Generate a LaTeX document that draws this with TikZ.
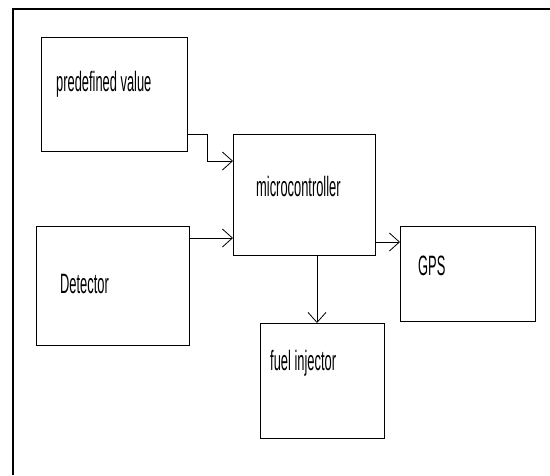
\documentclass[tikz,border=0pt]{standalone}
\usepackage{fontspec}
\usetikzlibrary{arrows.meta}
\newfontfamily\boxfont[FakeStretch=0.46]{Liberation Sans}

\tikzset{
  blockbox/.style={draw, line width=1pt, inner sep=0pt, outer sep=0pt},
  boxtext/.style={anchor=base west, inner sep=0pt, font=\boxfont\fontsize{28}{32}\selectfont},
  flow/.style={line width=1pt, -{Straight Barb[length=10pt,width=18pt,line width=0.8pt]}}
}

\begin{document}
\begin{tikzpicture}[x=1pt,y=-1pt]

    \useasboundingbox (0,0) rectangle (550,475);
    \draw[line width=1.2pt] (550,9) -- (13,9) -- (13,475);

    \node[blockbox, minimum width=146pt, minimum height=114pt] (pred) at (114,94) {};
    \node[blockbox, minimum width=142pt, minimum height=121pt] (micro) at (304,194.5) {};
    \node[blockbox, minimum width=153pt, minimum height=119pt] (det) at (112.5,285.5) {};
    \node[blockbox, minimum width=135pt, minimum height=95pt] (gps) at (467.5,273.5) {};
    \node[blockbox, minimum width=124pt, minimum height=115pt] (fuel) at (322,380.5) {};

    \node[boxtext] (predtext) at (56,91) {predefined value};
    \node[boxtext] (microtext) at (256,196) {microcontroller};
    \node[boxtext] (dettext) at (60,293) {Detector};
    \node[boxtext] (gpstext) at (418,275) {GPS};
    \node[boxtext] (fueltext) at (270,370) {fuel injector};

    \draw[flow] (pred.east |- micro.north) -- (207,134) |- (micro.west |- 0,161);
    \draw[flow] (det.east |- 0,238) -- (micro.west |- 0,238);
    \draw[flow] (micro.east |- 0,242) -- (gps.west |- 0,242);
    \draw[flow] (micro.south -| 317,0) -- (fuel.north -| 317,0);
\end{tikzpicture}
\end{document}
